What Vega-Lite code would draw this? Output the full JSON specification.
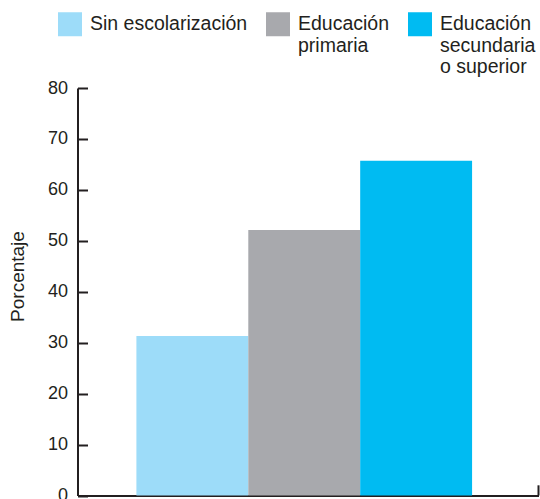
{
  "$schema": "https://vega.github.io/schema/vega-lite/v6.json",
  "autosize": "none",
  "width": 461,
  "height": 407.5,
  "padding": {"left": 77.5, "top": 88, "right": 1.5, "bottom": 3.5},
  "background": "white",
  "config": {
    "view": {"stroke": null},
    "font": "Liberation Sans",
    "axis": {"labelFont": "Liberation Sans", "titleFont": "Liberation Sans", "labelColor": "#231f20", "titleColor": "#231f20", "domainColor": "#231f20", "tickColor": "#231f20"},
    "legend": {"labelFont": "Liberation Sans", "labelColor": "#231f20"}
  },
  "layer": [
    {
      "data": {
        "values": [
          {"nivel": "Sin escolarización", "porcentaje": 31.3},
          {"nivel": "Educación primaria", "porcentaje": 52.1},
          {"nivel": "Educación secundaria o superior", "porcentaje": 65.7}
        ]
      },
      "mark": {"type": "bar"},
      "encoding": {
        "x": {
          "field": "nivel",
          "type": "nominal",
          "sort": null,
          "scale": {"paddingInner": 0, "paddingOuter": 0.56, "align": 0.47},
          "axis": {"domain": true, "domainWidth": 2, "ticks": false, "labels": false, "title": null, "grid": false}
        },
        "y": {
          "field": "porcentaje",
          "type": "quantitative",
          "scale": {"domain": [0, 80], "nice": false},
          "axis": {
            "values": [0, 10, 20, 30, 40, 50, 60, 70, 80],
            "grid": false,
            "domainWidth": 2,
            "tickWidth": 2,
            "tickSize": -10,
            "labelFontSize": 18,
            "labelPadding": 20,
            "title": "Porcentaje",
            "titleFontSize": 19,
            "titleFontWeight": "normal",
            "titlePadding": 20,
            "titleY": 188
          }
        },
        "color": {
          "field": "nivel",
          "type": "nominal",
          "sort": null,
          "scale": {"range": ["#9ddcf9", "#a8a9ad", "#00bbf2"]},
          "legend": {
            "title": null,
            "orient": "none",
            "legendX": -19.5,
            "legendY": -76,
            "direction": "horizontal",
            "columns": 3,
            "symbolType": "square",
            "symbolSize": 576,
            "symbolStrokeWidth": 0,
            "symbolOpacity": 1,
            "labelFontSize": 19.5,
            "labelOffset": 8,
            "labelLimit": 300,
            "labelBaseline": "top",
            "labelLineHeight": 17.5,
            "columnPadding": 18,
            "labelExpr": "datum.label == 'Educación primaria' ? ['Educación', 'primaria', ''] : datum.label == 'Educación secundaria o superior' ? ['Educación', 'secundaria', 'o superior'] : [datum.label, '', '']",
            "encode": {"labels": {"update": {"dy": {"value": -9}}}}
          }
        }
      }
    },
    {
      "data": {"values": [{"pos": 1, "desde": 0, "hasta": 2}]},
      "mark": {"type": "rule", "color": "#231f20", "strokeWidth": 2},
      "encoding": {
        "x": {"field": "pos", "type": "quantitative", "scale": {"domain": [0, 1]}, "axis": null},
        "y": {"field": "desde", "type": "quantitative"},
        "y2": {"field": "hasta"}
      }
    }
  ],
  "resolve": {"scale": {"x": "independent"}}
}
